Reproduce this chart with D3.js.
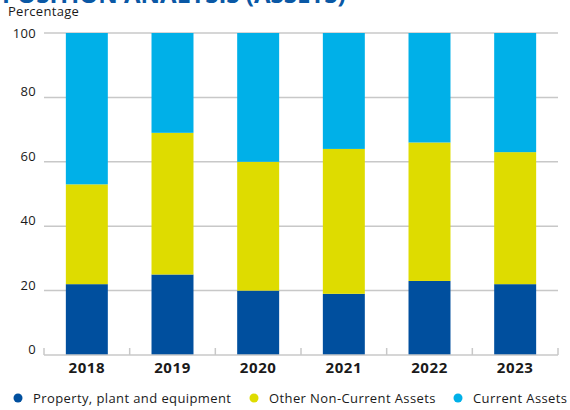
<!DOCTYPE html>
<html>
<head>
<meta charset="utf-8">
<script src="https://cdn.jsdelivr.net/npm/d3@7"></script>
<style>
  html, body { margin: 0; padding: 0; background: #fff; }
  svg { display: block; font-family: "Open Sans", "Noto Sans", sans-serif; }
</style>
</head>
<body>
<svg id="chart" width="570" height="410"></svg>
<script>
// Asset mix by year, in percent of total assets
const years = ["2018", "2019", "2020", "2021", "2022", "2023"];
const propertyPlant = [22, 25, 20, 19, 23, 22];
const otherNonCurrent = [31, 44, 40, 45, 43, 41];
const currentAssets = [47, 31, 40, 36, 34, 37];
const seriesNames = ["Property, plant and equipment", "Other Non-Current Assets", "Current Assets"];
const yTicks = [0, 20, 40, 60, 80, 100];

const colors = ["#004f9e", "#dedc00", "#00b0e8"];

const svg = d3.select("#chart");
const margin = { left: 44, right: 12, top: 33, bottom: 55 };
const width = 570, height = 410;

const rows = years.map((y, i) => ({
  year: y,
  s0: propertyPlant[i],
  s1: otherNonCurrent[i],
  s2: currentAssets[i]
}));
const stack = d3.stack().keys(["s0", "s1", "s2"])(rows);

const x = d3.scaleBand().domain(years)
  .range([margin.left, width - margin.right]).paddingInner(0.51).paddingOuter(0.255);
const y = d3.scaleLinear().domain([0, 100]).range([height - margin.bottom, margin.top]);

// Title (sits partly above the frame)
svg.append("text")
  .attr("x", 2).attr("y", 3)
  .attr("fill", "#0a58a5")
  .attr("font-size", 24).attr("font-weight", 700)
  .text("POSITION ANALYSIS (ASSETS)");

svg.append("text")
  .attr("x", 8).attr("y", 16)
  .attr("fill", "#1a1a1a").attr("font-size", 13).attr("letter-spacing", 0.3)
  .text("Percentage");

// Gridlines
svg.append("g").selectAll("line").data(yTicks.filter(d => d > 0)).join("line")
  .attr("x1", margin.left).attr("x2", width - margin.right)
  .attr("y1", d => y(d)).attr("y2", d => y(d))
  .attr("stroke", "#c8c8c8").attr("stroke-width", 1.5);

// Y tick labels
svg.append("g").selectAll("text").data(yTicks).join("text")
  .attr("x", 36)
  .attr("y", d => y(d) + (d === 100 ? 5 : -1))
  .attr("text-anchor", "end")
  .attr("fill", "#1a1a1a").attr("font-size", 13).attr("letter-spacing", 0.3)
  .text(d => d);

// Stacked bars
svg.append("g").selectAll("g").data(stack).join("g")
  .attr("fill", (d, i) => colors[i])
  .selectAll("rect").data(d => d).join("rect")
  .attr("x", d => x(d.data.year))
  .attr("width", x.bandwidth())
  .attr("y", d => y(d[1]))
  .attr("height", d => y(d[0]) - y(d[1]));

// Baseline with category separators
const base = svg.append("g");
base.append("line")
  .attr("x1", margin.left).attr("x2", width - margin.right)
  .attr("y1", y(0)).attr("y2", y(0))
  .attr("stroke", "#c8c8c8").attr("stroke-width", 1.5);
const bounds = years.map(yr => x(yr) - x.step() * x.paddingInner() / 2);
bounds[0] = margin.left;
bounds.push(width - margin.right);
base.selectAll("line.sep").data(bounds).join("line")
  .attr("class", "sep")
  .attr("x1", d => d).attr("x2", d => d)
  .attr("y1", y(0) - 7).attr("y2", y(0))
  .attr("stroke", "#c8c8c8").attr("stroke-width", 1.5);

// Year labels
svg.append("g").selectAll("text").data(years).join("text")
  .attr("x", d => x(d) + x.bandwidth() / 2)
  .attr("y", 373)
  .attr("text-anchor", "middle")
  .attr("fill", "#1a1a1a").attr("font-size", 15).attr("font-weight", 700)
  .attr("letter-spacing", 0.6)
  .text(d => d);

// Legend
const legendX = [18, 254, 458];
const leg = svg.append("g").selectAll("g").data(seriesNames).join("g")
  .attr("transform", (d, i) => `translate(${legendX[i]},398)`);
leg.append("circle").attr("r", 4.5).attr("fill", (d, i) => colors[i]);
leg.append("text")
  .attr("x", 15).attr("y", 4.5)
  .attr("fill", "#1a1a1a").attr("font-size", 13).attr("letter-spacing", 0.4)
  .text(d => d);
</script>
</body>
</html>
